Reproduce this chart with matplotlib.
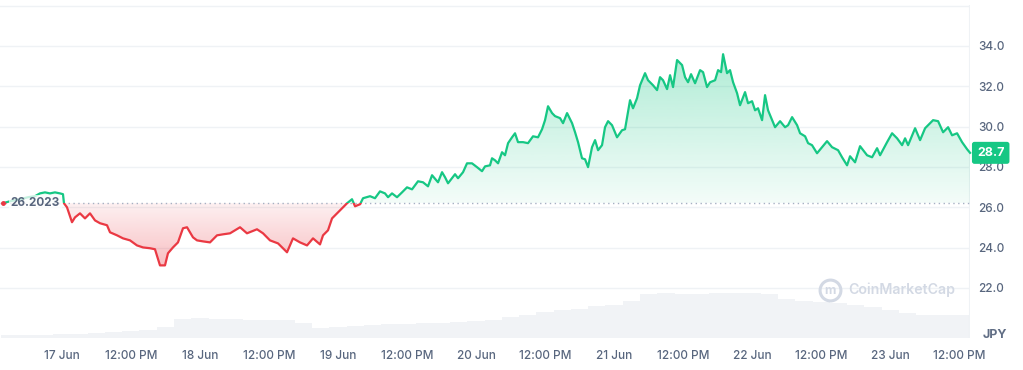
import matplotlib.pyplot as plt
import numpy as np
from matplotlib.patches import PathPatch, Rectangle

plt.rcParams['font.family'] = ['Inter', 'DejaVu Sans']

# price in JPY, x = hours counted from 17 Jun 00:00
hours = [-10.26, -9.04, -7.30, -5.91, -4.70, -3.83, -2.96, -2.09, -1.22, -0.35, 0.17,
         0.35, 0.87, 1.74, 2.26, 3.13, 4.00, 4.87, 5.74, 6.61, 7.83, 8.35, 9.57, 10.61,
         11.83, 13.04, 14.09, 15.30, 16.17, 17.04, 17.91, 18.43, 19.30, 20.17, 21.04,
         21.74, 22.78, 23.48, 24.52, 25.74, 26.96, 28.00, 29.22, 30.96, 32.17, 33.91,
         34.96, 36.17, 37.57, 39.13, 40.17, 41.39, 42.61, 43.65, 44.87, 45.39, 46.26,
         46.96, 47.83, 48.70, 49.57, 50.43, 50.96, 51.83, 52.35, 53.57, 54.43, 55.30,
         56.17, 56.70, 57.39, 58.26, 59.13, 60.00, 60.87, 61.91, 62.78, 63.65, 64.35,
         65.39, 66.09, 66.61, 67.13, 68.35, 68.87, 69.74, 70.43, 71.30, 72.17, 73.04,
         73.57, 74.43, 74.78, 75.30, 75.83, 76.52, 77.04, 77.57, 78.26, 78.78, 79.30,
         80.17, 81.04, 81.91, 82.78, 83.48, 84.00, 84.52, 85.22, 85.74, 86.61, 87.13,
         87.83, 88.70, 89.22, 89.74, 90.43, 90.96, 91.48, 92.17, 92.70, 93.22, 93.91,
         94.43, 94.96, 95.65, 96.52, 97.39, 97.91, 98.78, 99.30, 100.00, 100.52, 101.39,
         101.91, 102.78, 103.48, 104.00, 104.52, 105.22, 105.74, 106.26, 106.96, 107.83,
         108.35, 108.87, 109.39, 110.09, 110.96, 111.48, 112.17, 112.70, 113.57, 114.09,
         114.61, 114.96, 115.65, 116.17, 116.70, 117.39, 117.91, 118.78, 119.30, 120.00,
         120.52, 121.04, 121.74, 122.26, 122.78, 123.48, 124.00, 124.87, 125.74, 126.26,
         126.96, 127.83, 128.35, 129.22, 129.74, 130.43, 131.30, 132.17, 133.04, 133.91,
         134.96, 135.65, 136.52, 137.04, 137.91, 138.78, 140.00, 140.87, 141.74, 142.26,
         143.48, 144.35, 145.22, 146.09, 146.61, 147.13, 148.35, 149.22, 150.09, 150.96,
         151.48, 152.35, 153.22, 154.09, 154.78, 155.65, 156.52, 157.39, 157.91]
price = [26.2023, 26.30, 26.40, 26.50, 26.55, 26.69, 26.74, 26.69, 26.74, 26.69, 26.65,
         26.20, 26.00, 25.26, 25.50, 25.70, 25.45, 25.70, 25.35, 25.21, 25.11, 24.76, 24.61, 24.46,
         24.36, 24.11, 24.01, 23.97, 23.92, 23.12, 23.12, 23.72, 24.01, 24.26, 24.96,
         25.01, 24.51, 24.36, 24.31, 24.26, 24.61, 24.66, 24.71, 25.01, 24.71, 24.91,
         24.71, 24.36, 24.21, 23.77, 24.46, 24.26, 24.11, 24.46, 24.16, 24.61, 24.86,
         25.45, 25.70, 25.95, 26.20, 26.40, 26.05, 26.15, 26.45, 26.55, 26.45, 26.79,
         26.69, 26.50, 26.69, 26.50, 26.74, 26.99, 26.89, 27.29, 27.24, 27.04, 27.59,
         27.24, 27.74, 27.49, 27.19, 27.64, 27.44, 27.74, 28.18, 28.18, 27.99, 27.79,
         28.03, 28.08, 28.43, 28.33, 28.18, 28.73, 28.58, 29.18, 29.47, 29.67, 29.23,
         29.23, 29.18, 29.52, 29.47, 29.87, 30.32, 31.01, 30.67, 30.52, 30.42, 30.17,
         30.67, 30.17, 29.72, 29.23, 28.43, 28.38, 27.99, 28.98, 29.33, 28.83, 29.08,
         29.97, 30.27, 30.07, 29.47, 29.82, 29.87, 31.31, 30.91, 31.41, 32.05, 32.65,
         32.30, 32.05, 31.81, 32.45, 32.30, 31.86, 32.55, 31.96, 33.30, 33.05,
         32.45, 32.20, 32.60, 32.15, 32.80, 32.70, 31.96, 32.20, 32.30, 32.80,
         32.70, 33.59, 32.65, 32.80, 32.20, 31.66, 31.06, 31.71, 31.16, 31.26,
         30.81, 30.91, 30.32, 31.56, 30.81, 30.32, 29.97, 30.27, 29.97, 30.07,
         30.47, 30.07, 29.67, 29.52, 29.18, 29.08, 28.68, 28.98, 29.28, 28.98,
         28.83, 28.48, 28.08, 28.53, 28.23, 29.03, 28.58, 28.48, 28.93, 28.58,
         29.23, 29.67, 29.42, 29.08, 29.42, 29.08, 29.92, 29.33, 29.92, 30.17,
         30.32, 30.27, 29.72, 29.97, 29.57, 29.67, 29.23, 28.88, 28.70]
open_price = 26.2023
last_price = 28.7

# 24h volume (arbitrary units), sampled every 3 hours
vol_hours = [-9, -6, -3, 0, 3, 6, 9, 12, 15, 18, 21, 24, 27, 30, 33, 36, 39, 42, 45, 48,
             51, 54, 57, 60, 63, 66, 69, 72, 75, 78, 81, 84, 87, 90, 93, 96, 99, 102, 105,
             108, 111, 114, 117, 120, 123, 126, 129, 132, 135, 138, 141, 144, 147, 150,
             153, 156, 158]
volume = [0.3, 0.3, 0.3, 0.4, 0.4, 0.5, 0.6, 0.7, 0.8, 1.1, 1.9, 2.0, 1.9, 1.9, 1.8, 1.8,
          1.8, 1.5, 1.0, 1.1, 1.2, 1.3, 1.4, 1.4, 1.5, 1.5, 1.6, 1.7, 1.8, 2.1, 2.3, 2.6,
          2.8, 2.9, 3.2, 3.3, 3.7, 4.4, 4.5, 4.4, 4.4, 4.5, 4.5, 4.5, 4.4, 3.9, 3.7, 3.6,
          3.5, 3.3, 3.1, 2.8, 2.5, 2.3, 2.3, 2.3, 2.3]

tick_hours = [0, 12, 24, 36, 48, 60, 72, 84, 96, 108, 120, 132, 144, 156]
tick_labels = ['17 Jun', '12:00 PM', '18 Jun', '12:00 PM', '19 Jun', '12:00 PM', '20 Jun',
               '12:00 PM', '21 Jun', '12:00 PM', '22 Jun', '12:00 PM', '23 Jun', '12:00 PM']
price_ticks = [22, 24, 26, 28, 30, 32, 34]

GREEN = '#16c784'
RED = '#ea3943'
GREY = '#58667e'

x = np.array(hours)
y = np.array(price)
xmin, xmax = -10.78, 157.9
ymin, ymax = 19.52, 36.03

fig = plt.figure(figsize=(10.23, 3.70), dpi=100)
rect = [0.0, 0.0865, 0.9482, 0.9]
ax_vol = fig.add_axes(rect)
ax = fig.add_axes(rect)
ax.patch.set_visible(False)

# volume bars in the background
ax_vol.bar(vol_hours, volume, width=3.05, color='#f1f3f6', edgecolor='none')
ax_vol.set_xlim(xmin, xmax)
ax_vol.set_ylim(0, 33.3)
ax_vol.axis('off')

# grid
for v in price_ticks + [36]:
    ax.axhline(v, color='#eff2f5', lw=1, zorder=0)
ax.axvline(xmax, color='#eff2f5', lw=1.5, zorder=0)

# gradient fills
def gradient_fill(lower, upper, color, a_low, a_high, y_fill):
    poly = ax.fill_between(x, y_fill, open_price, color='none', lw=0)
    patch = PathPatch(poly.get_paths()[0], transform=ax.transData, fc='none', ec='none')
    ax.add_patch(patch)
    rgb = np.array(plt.matplotlib.colors.to_rgb(color))
    img = np.zeros((100, 1, 4))
    img[:, 0, :3] = rgb
    img[:, 0, 3] = np.linspace(a_low, a_high, 100)
    im = ax.imshow(img, extent=(xmin, xmax, lower, upper), origin='lower',
                   aspect='auto', zorder=1)
    im.set_clip_path(patch)

gradient_fill(open_price, y.max(), GREEN, 0.05, 0.34, np.maximum(y, open_price))
gradient_fill(y.min(), open_price, RED, 0.32, 0.07, np.minimum(y, open_price))

# baseline
ax.axhline(open_price, color='#a6b0c3', lw=1, ls=(0, (1, 2.5)), zorder=2)

# price line, green above the open and red below
up = ax.plot(x, y, color=GREEN, lw=1.6, zorder=3, solid_joinstyle='round')[0]
dn = ax.plot(x, y, color=RED, lw=1.6, zorder=3, solid_joinstyle='round')[0]
up.set_clip_path(Rectangle((xmin - 20, open_price), 200, 50, transform=ax.transData))
dn.set_clip_path(Rectangle((xmin - 20, open_price - 50), 200, 50, transform=ax.transData))
ax.plot([x[0]], [open_price], 'o', color=RED, ms=2.5, zorder=4)

ax.text(-8.9, open_price, '26.2023', ha='left', va='center', fontsize=8.5,
        fontweight='bold', color=GREY, zorder=5,
        bbox=dict(boxstyle='square,pad=0.15', fc='white', ec='none', alpha=0.75))

ax.set_xlim(xmin, xmax)
ax.set_ylim(ymin, ymax)
ax.set_xticks(tick_hours, tick_labels)
ax.set_yticks(price_ticks, [f'{v:.1f}' for v in price_ticks])
ax.yaxis.tick_right()
ax.tick_params(axis='both', length=0, labelsize=8.5, labelcolor=GREY)
ax.tick_params(axis='y', pad=6)
ax.tick_params(axis='x', pad=9)
for lab in ax.get_xticklabels() + ax.get_yticklabels():
    lab.set_fontweight('medium')
for s in ax.spines.values():
    s.set_visible(False)

# last price badge
ax.annotate(f'{last_price}', xy=(1, last_price), xycoords=('axes fraction', 'data'),
            xytext=(5, 0), textcoords='offset points', ha='left', va='center',
            fontsize=9, fontweight='bold', color='white', zorder=6,
            bbox=dict(boxstyle='round,pad=0.4,rounding_size=0.2', fc=GREEN, ec='none'))

fig.text(995 / 1023, 1 - 335 / 370, 'JPY', ha='center', va='center', fontsize=9,
         fontweight='bold', color='#616e85')

# watermark
ax.plot([0.856], [0.144], 'o', ms=15, mfc='none', mec='#d3d9e4', mew=2.2,
        transform=ax.transAxes, zorder=2)
ax.text(0.856, 0.140, 'm', ha='center', va='center', fontsize=9, fontweight='bold',
        color='#d3d9e4', transform=ax.transAxes, zorder=2)
ax.text(0.874, 0.144, 'CoinMarketCap', ha='left', va='center', fontsize=10.2,
        fontweight='semibold', color='#d3d9e4', transform=ax.transAxes, zorder=2)

fig.savefig('out.png', dpi=100)
